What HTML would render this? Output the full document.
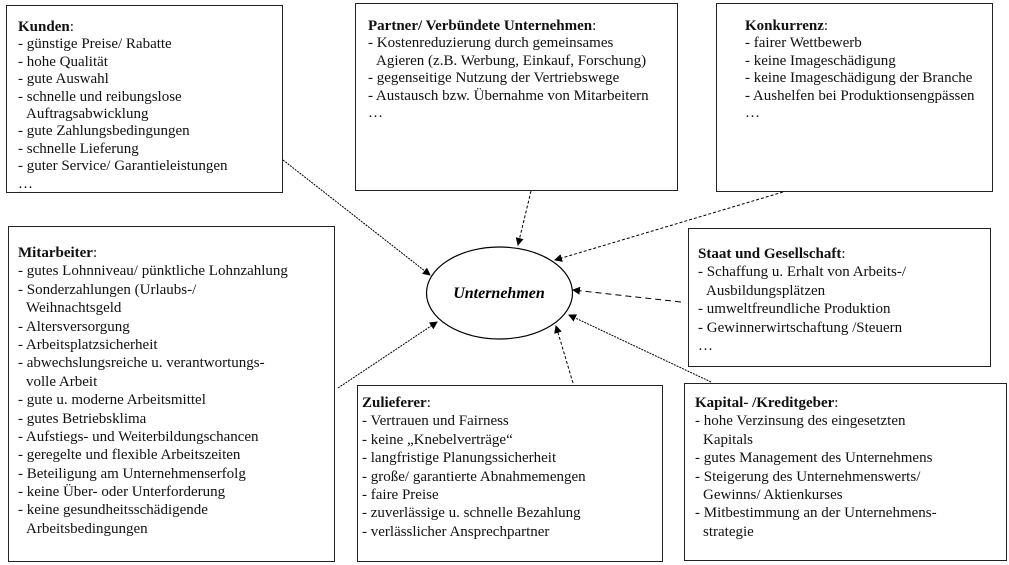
<!DOCTYPE html>
<html><head><meta charset="utf-8"><style>
html,body{margin:0;padding:0;background:#fff;}
body{width:1009px;height:565px;position:relative;overflow:hidden;font-family:"Liberation Serif",serif;font-size:15px;color:#111;}
.b{position:absolute;border:1.3px solid #222;box-sizing:border-box;}
.t{position:absolute;white-space:nowrap;}
.t div{height:17.4px;line-height:17.4px;}
.t.w div{height:18.4px;line-height:18.4px;}
.i{padding-left:8px;}
b{font-weight:bold;}
svg{position:absolute;left:0;top:0;}
</style></head><body>
<div class="b" style="left:6px;top:5px;width:277px;height:188px"></div>
<div class="b" style="left:355px;top:3px;width:323px;height:188px"></div>
<div class="b" style="left:716px;top:3px;width:277px;height:189px"></div>
<div class="b" style="left:8px;top:226px;width:327px;height:336px"></div>
<div class="b" style="left:688px;top:228px;width:303px;height:139px"></div>
<div class="b" style="left:357px;top:385px;width:306px;height:177px"></div>
<div class="b" style="left:684px;top:383px;width:323px;height:178px"></div>

<div class="t" style="left:18px;top:19px">
<div><b>Kunden</b>:</div><div>- günstige Preise/ Rabatte</div><div>- hohe Qualität</div><div>- gute Auswahl</div><div>- schnelle und reibungslose</div><div class="i">Auftragsabwicklung</div><div>- gute Zahlungsbedingungen</div><div>- schnelle Lieferung</div><div>- guter Service/ Garantieleistungen</div><div>…</div></div>

<div class="t" style="left:368px;top:18px">
<div><b>Partner/ Verbündete Unternehmen</b>:</div><div>- Kostenreduzierung durch gemeinsames</div><div class="i">Agieren (z.B. Werbung, Einkauf, Forschung)</div><div>- gegenseitige Nutzung der Vertriebswege</div><div>- Austausch bzw. Übernahme von Mitarbeitern</div><div>…</div></div>

<div class="t" style="left:745px;top:18px">
<div><b>Konkurrenz</b>:</div><div>- fairer Wettbewerb</div><div>- keine Imageschädigung</div><div>- keine Imageschädigung der Branche</div><div>- Aushelfen bei Produktionsengpässen</div><div>…</div></div>

<div class="t w" style="left:18px;top:244px">
<div><b>Mitarbeiter</b>:</div><div>- gutes Lohnniveau/ pünktliche Lohnzahlung</div><div>- Sonderzahlungen (Urlaubs-/</div><div class="i">Weihnachtsgeld</div><div>- Altersversorgung</div><div>- Arbeitsplatzsicherheit</div><div>- abwechslungsreiche u. verantwortungs-</div><div class="i">volle Arbeit</div><div>- gute u. moderne Arbeitsmittel</div><div>- gutes Betriebsklima</div><div>- Aufstiegs- und Weiterbildungschancen</div><div>- geregelte und flexible Arbeitszeiten</div><div>- Beteiligung am Unternehmenserfolg</div><div>- keine Über- oder Unterforderung</div><div>- keine gesundheitsschädigende</div><div class="i">Arbeitsbedingungen</div></div>

<div class="t w" style="left:698px;top:245px">
<div><b>Staat und Gesellschaft</b>:</div><div>- Schaffung u. Erhalt von Arbeits-/</div><div class="i">Ausbildungsplätzen</div><div>- umweltfreundliche Produktion</div><div>- Gewinnerwirtschaftung /Steuern</div><div>…</div></div>

<div class="t w" style="left:362px;top:394px">
<div><b>Zulieferer</b>:</div><div>- Vertrauen und Fairness</div><div>- keine „Knebelverträge“</div><div>- langfristige Planungssicherheit</div><div>- große/ garantierte Abnahmemengen</div><div>- faire Preise</div><div>- zuverlässige u. schnelle Bezahlung</div><div>- verlässlicher Ansprechpartner</div></div>

<div class="t w" style="left:695px;top:394px">
<div><b>Kapital- /Kreditgeber</b>:</div><div>- hohe Verzinsung des eingesetzten</div><div class="i">Kapitals</div><div>- gutes Management des Unternehmens</div><div>- Steigerung des Unternehmenswerts/</div><div class="i">Gewinns/ Aktienkurses</div><div>- Mitbestimmung an der Unternehmens-</div><div class="i">strategie</div></div>

<svg width="1009" height="565" viewBox="0 0 1009 565">
<defs><marker id="a" markerWidth="8" markerHeight="8" refX="7" refY="4" orient="auto" markerUnits="userSpaceOnUse"><path d="M0,0 L8,4 L0,8 z" fill="#000"/></marker></defs>
<ellipse cx="499.5" cy="293" rx="73" ry="46" fill="none" stroke="#000" stroke-width="1.2"/>
<text x="499" y="298" text-anchor="middle" font-family="Liberation Serif, serif" font-size="16" font-weight="bold" font-style="italic">Unternehmen</text>
<g stroke="#000" stroke-width="1" fill="none" marker-end="url(#a)">
<line x1="283" y1="160" x2="430" y2="275" stroke-dasharray="2,1"/>
<line x1="531" y1="191" x2="518" y2="245" stroke-dasharray="3,2"/>
<line x1="783" y1="192" x2="555" y2="260" stroke-dasharray="3,2"/>
<line x1="681" y1="302" x2="573" y2="290" stroke-dasharray="6,4"/>
<line x1="711" y1="382" x2="569" y2="315" stroke-dasharray="2,1"/>
<line x1="573" y1="383" x2="556" y2="326" stroke-dasharray="3,2"/>
<line x1="338" y1="388" x2="437" y2="322" stroke-dasharray="2,1"/>
</g>
</svg>
</body></html>
